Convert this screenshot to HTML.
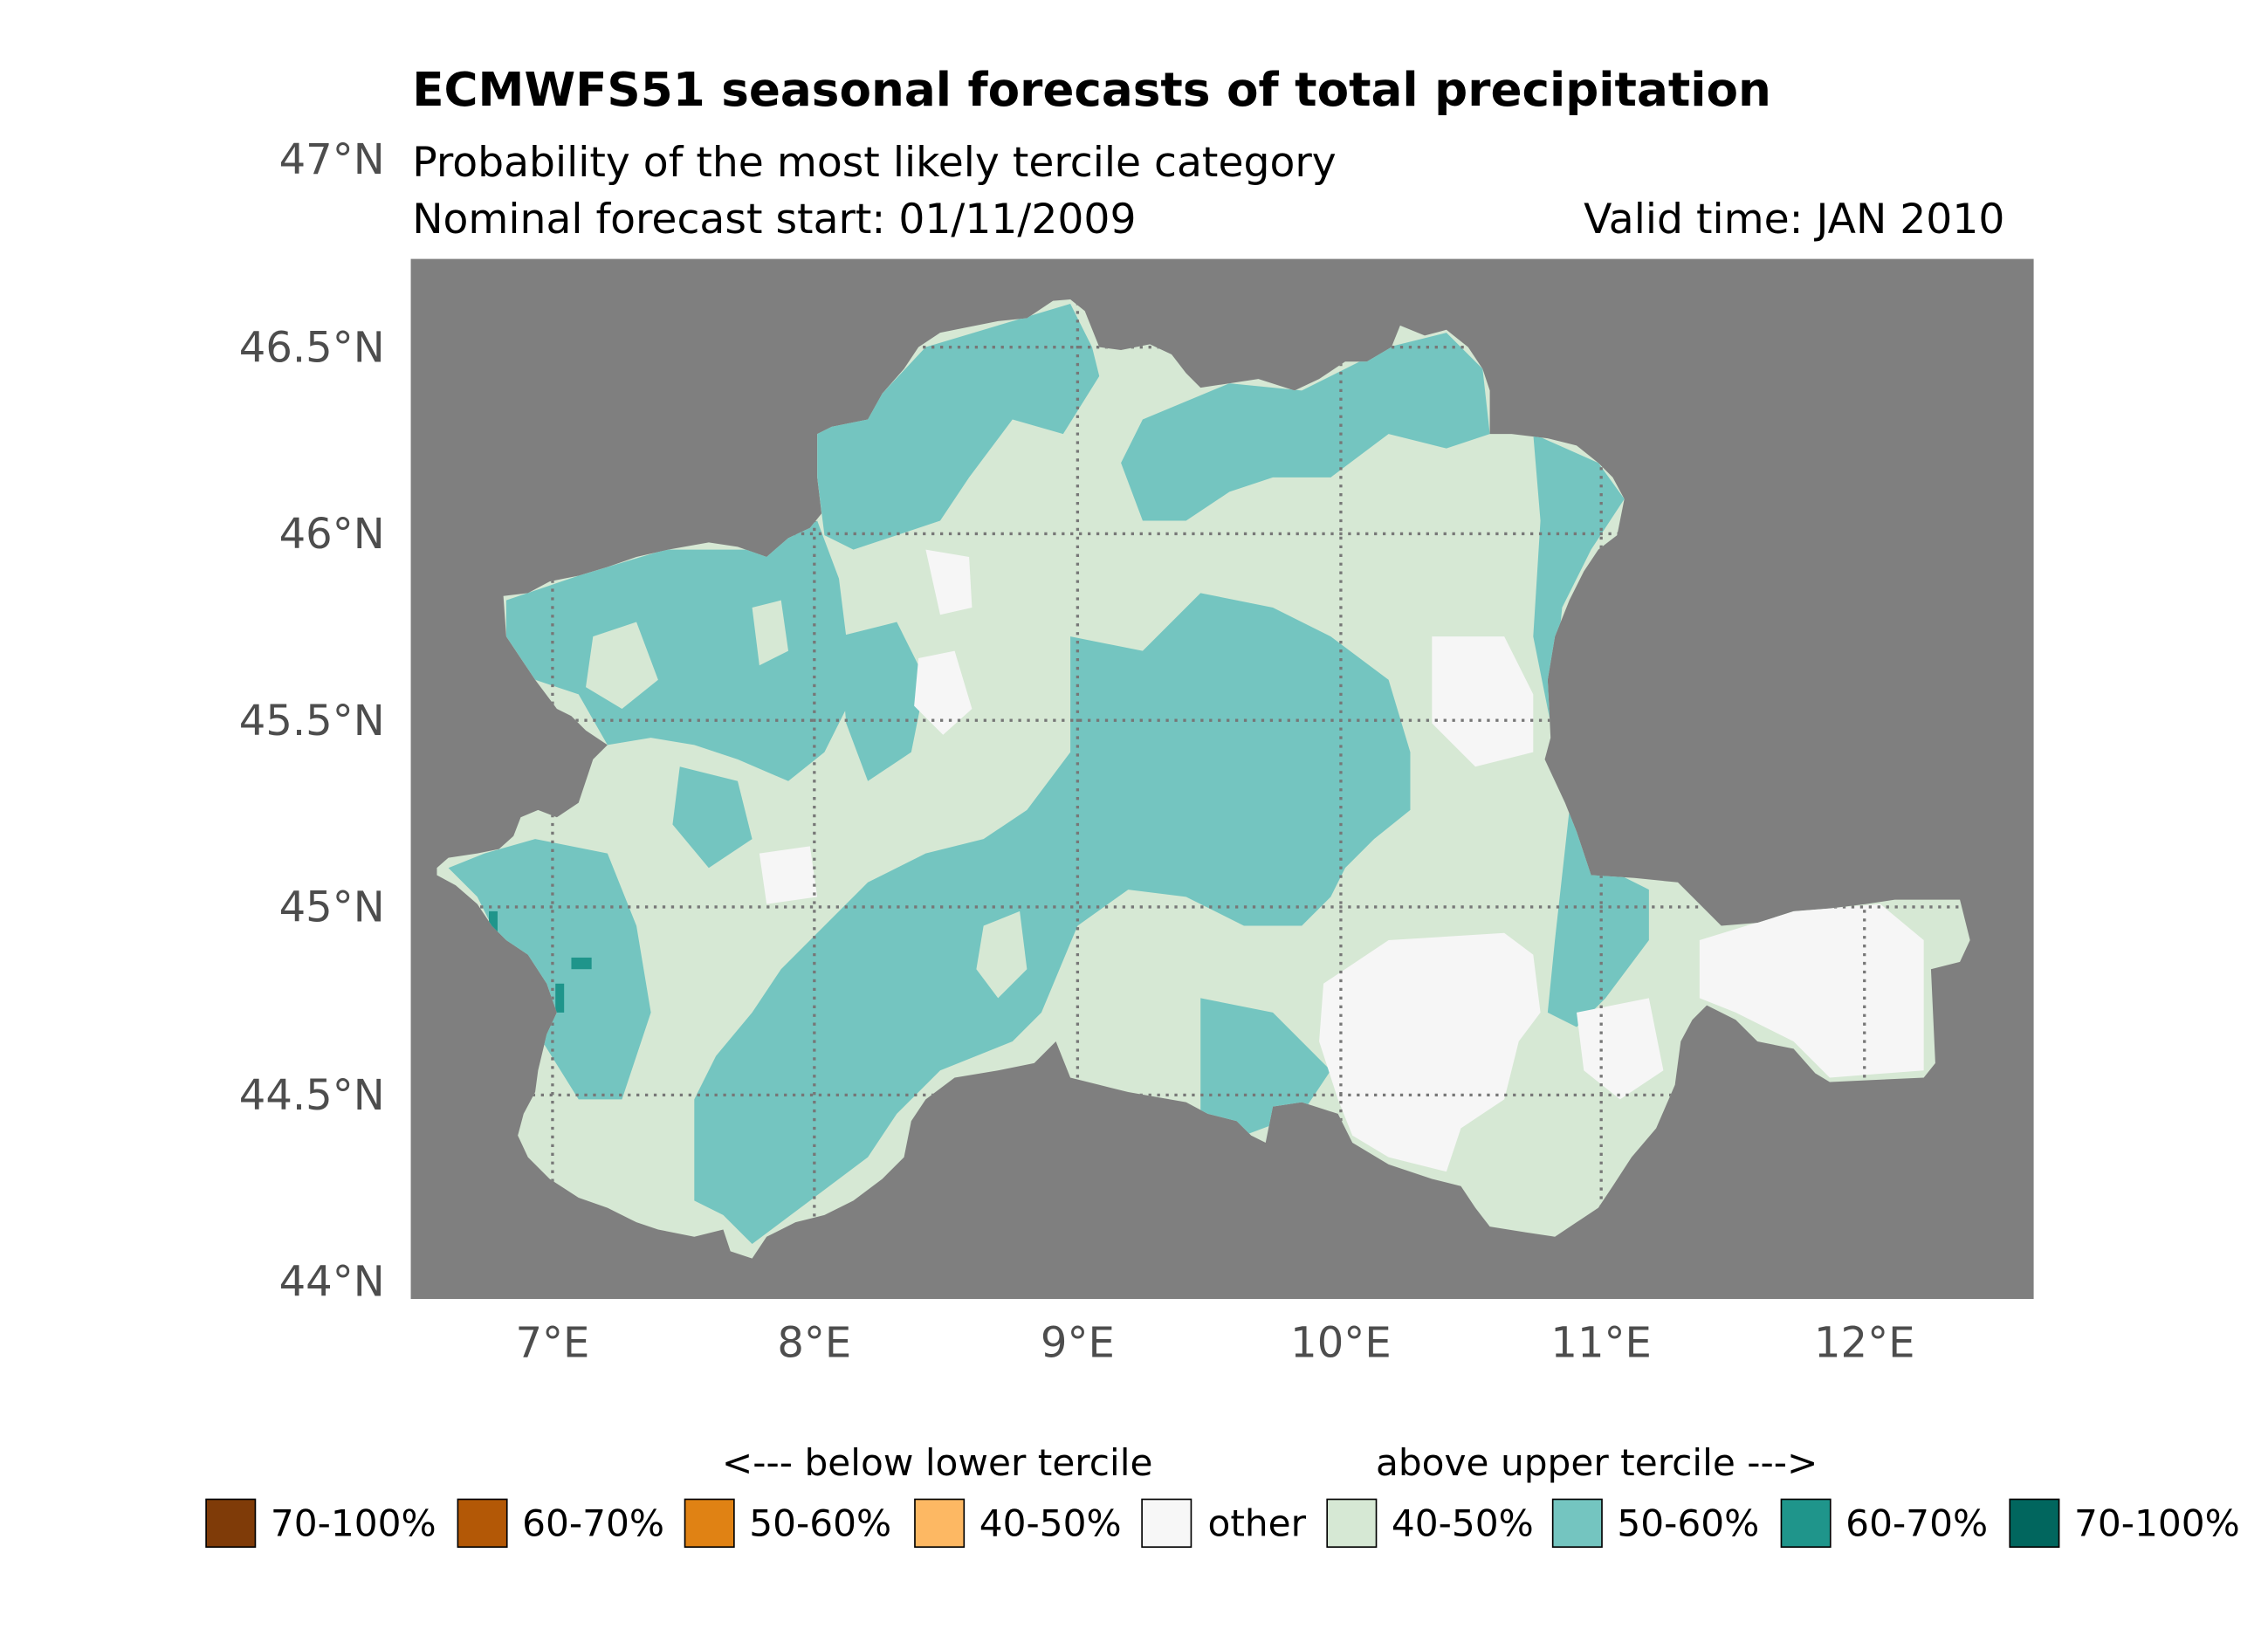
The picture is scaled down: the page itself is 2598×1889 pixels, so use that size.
<!DOCTYPE html>
<html><head><meta charset="utf-8"><style>
html,body{margin:0;padding:0;background:#fff;}
svg{display:block;}
text{font-family:"DejaVu Sans","Liberation Sans",sans-serif;}
</style></head><body>
<svg width="2598" height="1889" viewBox="0 0 1568 1140" preserveAspectRatio="none" xmlns="http://www.w3.org/2000/svg">
<rect x="0" y="0" width="1568" height="1140" fill="#fff"/>
<text x="285" y="73" font-size="32.1" font-weight="bold" fill="#000">ECMWFS51 seasonal forecasts of total precipitation</text>
<text x="285" y="122" font-size="28.5" fill="#000">Probability of the most likely tercile category</text>
<text x="285" y="161" font-size="28.5" fill="#000">Nominal forecast start: 01/11/2009</text>
<text x="1386" y="161" font-size="28.5" fill="#000" text-anchor="end">Valid time: JAN 2010</text>

<rect x="284" y="179" width="1122" height="719" fill="#7f7f7f"/>
<defs>
<clipPath id="land"><path d="M302,600 L310,593 330,590 345,587 355,578 360,565 372,560 385,565 400,555 405,540 410,525 420,515 405,505 395,495 385,490 370,470 360,455 350,440 348,412 365,410 380,402 400,398 420,392 440,385 462,380 490,375 510,378 530,385 545,372 560,365 568,355 565,330 565,300 575,295 600,290 610,272 625,255 635,240 650,230 665,227 690,222 710,220 728,208 740,207 750,215 760,240 775,242 795,238 810,245 820,258 830,268 850,265 870,262 895,270 912,262 930,250 945,250 962,240 968,225 985,232 1000,228 1015,240 1025,255 1030,270 1030,300 1045,300 1070,303 1090,308 1105,320 1115,330 1123,345 1118,370 1105,380 1095,395 1085,415 1075,440 1070,470 1072,510 1068,525 1075,540 1082,555 1090,575 1100,605 1130,607 1160,610 1175,625 1190,640 1215,638 1240,630 1265,628 1290,625 1310,622 1355,622 1362,650 1355,665 1335,670 1338,735 1330,745 1265,748 1255,742 1240,725 1215,720 1200,705 1180,695 1170,705 1162,720 1158,750 1145,780 1128,800 1115,820 1105,835 1090,845 1075,855 1055,852 1030,848 1020,835 1010,820 990,815 960,805 935,790 925,770 900,762 880,765 875,790 865,785 855,775 835,770 820,762 780,755 760,750 740,745 730,720 715,735 690,740 660,745 640,760 630,775 625,800 610,815 590,830 570,840 550,845 530,855 520,870 505,865 500,850 480,855 455,850 440,845 420,835 400,828 380,815 365,800 358,785 362,770 370,755 372,740 378,715 385,700 378,680 365,660 350,650 340,640 330,625 315,612 302,605 Z"/></clipPath>
</defs>
<g clip-path="url(#land)">
<rect x="284" y="179" width="1122" height="719" fill="#d6e8d4"/>
<g fill="#74c5c0">
<path d="M350,415 L400,398 460,380 520,380 545,372 565,360 580,400 590,480 570,520 545,540 510,525 480,515 450,510 420,515 400,480 370,470 350,440 Z"/>
<path d="M565,300 L610,272 640,240 700,222 740,210 755,240 760,260 735,300 700,290 670,330 650,360 620,370 590,380 570,370 565,330 Z"/>
<path d="M740,440 L790,450 830,410 880,420 920,440 960,470 975,520 975,560 950,580 930,600 920,620 900,640 860,640 820,620 780,615 745,640 720,700 700,720 650,740 620,770 600,800 560,830 520,860 500,840 480,830 480,760 495,730 520,700 540,670 570,640 600,610 640,590 680,580 710,560 740,520 Z"/>
<path d="M790,290 L850,265 900,270 960,240 1000,230 1025,255 1030,300 1000,310 960,300 920,330 880,330 850,340 820,360 790,360 775,320 Z"/>
<path d="M1060,300 L1105,320 1123,345 1100,380 1080,420 1072,500 1060,440 1065,360 Z"/>
<path d="M1085,560 L1110,600 1140,615 1140,650 1110,690 1090,710 1070,700 1075,650 Z"/>
<path d="M370,580 L420,590 440,640 450,700 430,760 400,760 375,720 350,660 330,620 310,600 335,590 Z"/>
<path d="M830,690 L880,700 920,740 900,770 860,785 830,770 Z"/>
<path d="M580,440 L620,430 640,470 630,520 600,540 585,500 Z"/>
<path d="M470,530 L510,540 520,580 490,600 465,570 Z"/>
</g>
<g fill="#d6e8d4">
<path d="M410,440 L440,430 455,470 430,490 405,475 Z"/>
<path d="M520,420 L540,415 545,450 525,460 Z"/>
<path d="M680,640 L705,630 710,670 690,690 675,670 Z"/>
</g>
<g fill="#f6f6f6">
<path d="M915,680 L960,650 1040,645 1060,660 1065,700 1050,720 1040,760 1010,780 1000,810 960,800 935,785 925,760 912,720 Z"/>
<path d="M1175,650 L1240,630 1300,625 1330,650 1330,740 1265,745 1240,720 1200,700 1175,690 Z"/>
<path d="M990,440 L1040,440 1060,480 1060,520 1020,530 990,500 Z"/>
<path d="M640,380 L670,385 672,420 650,425 Z"/>
<path d="M525,590 L560,585 565,620 530,625 Z"/>
<path d="M1090,700 L1140,690 1150,740 1120,760 1095,740 Z"/>
<path d="M635,455 L660,450 672,490 652,508 632,488 Z"/>
</g>
<g fill="#1f958b">
<rect x="338" y="630" width="6" height="20"/>
<rect x="395" y="662" width="14" height="8"/>
<rect x="384" y="680" width="6" height="20"/>
</g>
<g stroke="#777" stroke-width="2" stroke-dasharray="2,4" fill="none">
<line x1="382" y1="179" x2="382" y2="898"/>
<line x1="563" y1="179" x2="563" y2="898"/>
<line x1="745" y1="179" x2="745" y2="898"/>
<line x1="927" y1="179" x2="927" y2="898"/>
<line x1="1107" y1="179" x2="1107" y2="898"/>
<line x1="1289" y1="179" x2="1289" y2="898"/>
<line x1="284" y1="240" x2="1406" y2="240"/>
<line x1="284" y1="369" x2="1406" y2="369"/>
<line x1="284" y1="498" x2="1406" y2="498"/>
<line x1="284" y1="627" x2="1406" y2="627"/>
<line x1="284" y1="757" x2="1406" y2="757"/>
</g>
</g>

<g font-size="29" fill="#4d4d4d" text-anchor="end">
<text x="266" y="120">47°N</text>
<text x="266" y="250">46.5°N</text>
<text x="266" y="379">46°N</text>
<text x="266" y="508">45.5°N</text>
<text x="266" y="637">45°N</text>
<text x="266" y="767">44.5°N</text>
<text x="266" y="896">44°N</text>
</g>
<g font-size="29" fill="#4d4d4d" text-anchor="middle">
<text x="382" y="938">7°E</text>
<text x="563" y="938">8°E</text>
<text x="745" y="938">9°E</text>
<text x="927" y="938">10°E</text>
<text x="1107" y="938">11°E</text>
<text x="1289" y="938">12°E</text>
</g>

<g font-size="25.5" fill="#000">
<text x="648" y="1020" text-anchor="middle">&lt;--- below lower tercile</text>
<text x="1104" y="1020" text-anchor="middle">above upper tercile ---&gt;</text>
</g>
<g stroke="#000" stroke-width="1">
<rect x="142.5" y="1036.5" width="34" height="33" fill="#7f3b08"/>
<rect x="316.5" y="1036.5" width="34" height="33" fill="#b35806"/>
<rect x="473.5" y="1036.5" width="34" height="33" fill="#e08214"/>
<rect x="632.5" y="1036.5" width="34" height="33" fill="#fdb863"/>
<rect x="789.5" y="1036.5" width="34" height="33" fill="#f7f7f7"/>
<rect x="917.5" y="1036.5" width="34" height="33" fill="#d6e8d4"/>
<rect x="1073.5" y="1036.5" width="34" height="33" fill="#74c5c0"/>
<rect x="1231.5" y="1036.5" width="34" height="33" fill="#1f958b"/>
<rect x="1389.5" y="1036.5" width="34" height="33" fill="#01665e"/>
</g>
<g font-size="25.5" fill="#000">
<text x="187" y="1062">70-100%</text>
<text x="361" y="1062">60-70%</text>
<text x="518" y="1062">50-60%</text>
<text x="677" y="1062">40-50%</text>
<text x="835" y="1062">other</text>
<text x="962" y="1062">40-50%</text>
<text x="1118" y="1062">50-60%</text>
<text x="1276" y="1062">60-70%</text>
<text x="1434" y="1062">70-100%</text>
</g>
</svg>
</body></html>
